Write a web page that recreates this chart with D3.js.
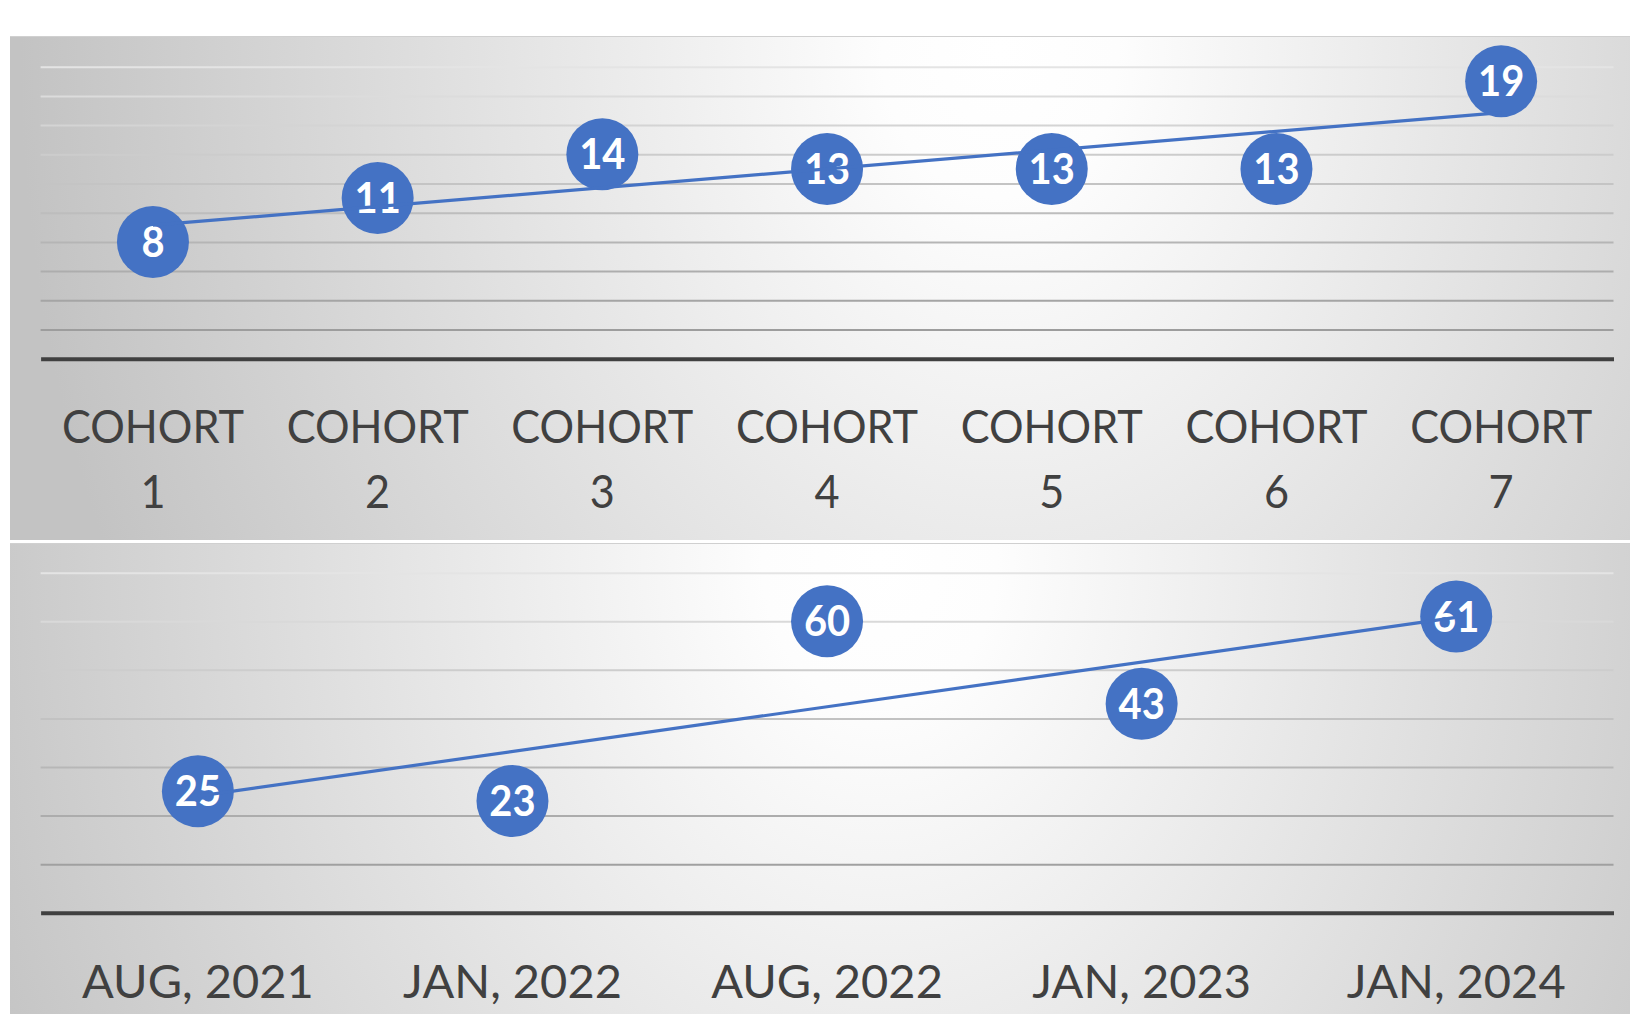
<!DOCTYPE html>
<html>
<head>
<meta charset="utf-8">
<script src="https://cdn.jsdelivr.net/npm/d3@7"></script>
<style>
  body { margin: 0; background: #fff; }
  svg { display: block; }
</style>
</head>
<body>
<div id="chart"></div>
<script>
// chart data
const cohortLabels = ['COHORT 1', 'COHORT 2', 'COHORT 3', 'COHORT 4', 'COHORT 5', 'COHORT 6', 'COHORT 7'];
const cohortValues = [8, 11, 14, 13, 13, 13, 19];
const cohortGrid = [2, 4, 6, 8, 10, 12, 14, 16, 18, 20];

const dateLabels = ['AUG, 2021', 'JAN, 2022', 'AUG, 2022', 'JAN, 2023', 'JAN, 2024'];
const dateValues = [25, 23, 60, 43, 61];
const dateGrid = [10, 20, 30, 40, 50, 60, 70];

const width = 1630, height = 1014;
const blue = '#4472C4';

const svg = d3.select('#chart')
    .append('svg')
    .attr('width', width)
    .attr('height', height);

const defs = svg.append('defs');

// least squares trendline, like excel's linear trendline
function trend(values) {
    const n = values.length;
    const xs = d3.range(1, n + 1);
    const mx = d3.mean(xs), my = d3.mean(values);
    const slope = d3.sum(xs, (x, i) => (x - mx) * (values[i] - my)) / d3.sum(xs, x => (x - mx) ** 2);
    return [my + slope * (1 - mx), my + slope * (n - mx)];
}

function drawPanel(opts) {
    const { id, top, bottom, labels, values, grid, yMax, yTop, yAxis, glow, labelLines, textScale } = opts;

    // background: soft white glow fading to gray at the edges
    const bg = defs.append('radialGradient')
        .attr('id', id + '-bg')
        .attr('gradientUnits', 'userSpaceOnUse')
        .attr('cx', glow[0]).attr('cy', glow[1]).attr('r', glow[2])
        .attr('gradientTransform', `translate(${glow[0]},${glow[1]}) scale(1,1.25) translate(${-glow[0]},${-glow[1]})`);
    bg.append('stop').attr('offset', '0%').attr('stop-color', '#ffffff');
    bg.append('stop').attr('offset', '12%').attr('stop-color', '#fdfdfd');
    bg.append('stop').attr('offset', '100%').attr('stop-color', '#c3c3c3');

    svg.append('rect')
        .attr('x', 10).attr('y', top)
        .attr('width', width - 10).attr('height', bottom - top)
        .attr('fill', `url(#${id}-bg)`);
    svg.append('line')
        .attr('x1', 10).attr('x2', width)
        .attr('y1', top + 0.5).attr('y2', top + 0.5)
        .attr('stroke', '#d0d0d0').attr('stroke-width', 1);

    const x = d3.scaleBand().domain(labels).range([40.6, 1613.5]);
    const y = d3.scaleLinear().domain([0, yMax]).range([yAxis, yTop]);

    // gridlines fade out toward the top
    const gridColor = d3.scaleLinear()
        .domain([yTop, yAxis])
        .range(['#e4e4e4', '#959595']);

    const g = svg.append('g');

    g.append('g')
        .attr('transform', 'translate(40.6,0)')
        .call(d3.axisLeft(y).tickValues(grid).tickSize(-(1613.5 - 40.6)).tickFormat(''))
        .call(a => a.select('.domain').remove())
        .selectAll('line')
        .attr('stroke', d => gridColor(y(d)))
        .attr('stroke-width', 2);

    // category axis
    const ax = g.append('g')
        .attr('transform', `translate(0,${yAxis})`)
        .call(d3.axisBottom(x).tickSize(0).tickFormat(''));
    ax.select('.domain')
        .attr('stroke', '#404040')
        .attr('stroke-width', 4);

    ax.selectAll('.tick').each(function (d) {
        const lines = labelLines(d);
        const t = d3.select(this).append('text')
            .attr('fill', '#404040')
            .attr('font-family', 'Lato, "Open Sans", sans-serif')
            .attr('font-size', 47)
            .attr('text-anchor', 'middle')
            .attr('transform', `scale(${textScale},1)`);
        lines.forEach((s, i) => {
            t.append('tspan').attr('x', 0).attr('y', opts.labelBase + i * 65).text(s);
        });
    });

    // data label bubbles
    const pts = g.append('g').selectAll('g')
        .data(values)
        .enter()
        .append('g')
        .attr('transform', (d, i) => `translate(${x(labels[i]) + x.bandwidth() / 2},${y(d)})`);

    pts.append('circle')
        .attr('r', 36)
        .attr('fill', blue);

    pts.append('text')
        .attr('text-anchor', 'middle')
        .attr('dy', '0.36em')
        .attr('fill', '#fff')
        .attr('font-family', 'Lato, "Open Sans", sans-serif')
        .attr('font-weight', 'bold')
        .attr('font-size', 42)
        .attr('transform', 'scale(0.95,1)')
        .text(d => d);

    // trendline on top
    const [t0, t1] = trend(values);
    const half = x.bandwidth() / 2;
    g.append('line')
        .attr('x1', x(labels[0]) + half)
        .attr('y1', y(t0))
        .attr('x2', x(labels[labels.length - 1]) + half)
        .attr('y2', y(t1))
        .attr('stroke', blue)
        .attr('stroke-width', 3.2);
}

drawPanel({
    id: 'cohort',
    top: 36, bottom: 540,
    labels: cohortLabels, values: cohortValues, grid: cohortGrid,
    yMax: 20, yTop: 66.7, yAxis: 358.7,
    glow: [1000, 50, 980],
    labelBase: 443 - 358.7,
    labelLines: d => d.split(' '),
    textScale: 0.92
});

drawPanel({
    id: 'date',
    top: 543, bottom: 1014,
    labels: dateLabels, values: dateValues, grid: dateGrid,
    yMax: 70, yTop: 572.7, yAxis: 912.7,
    glow: [880, 560, 980],
    labelBase: 998 - 912.7,
    labelLines: d => [d],
    textScale: 1
});
</script>
</body>
</html>
